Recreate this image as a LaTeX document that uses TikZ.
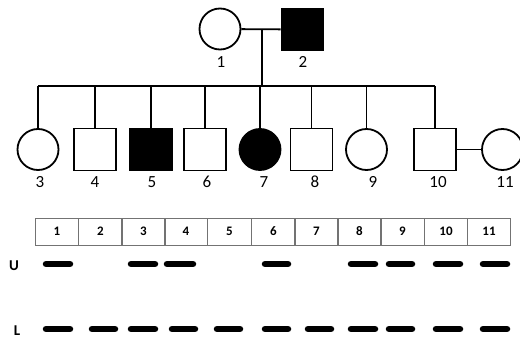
\documentclass[tikz,border=0pt]{standalone}
\usepackage{fontspec}
\setmainfont{Carlito}
\begin{document}
\begin{tikzpicture}[x=1pt,y=-1pt,
  ind/.style={draw=black,line width=1.8pt,inner sep=0pt,minimum size=41pt},
  fem/.style={ind,circle},
  mal/.style={ind,rectangle,minimum size=42pt},
  aff/.style={fill=black},
  lab/.style={font=\fontsize{17}{17}\selectfont},
  link/.style={line width=1.8pt},
  cell/.style={draw=black!55,line width=0.8pt,minimum width=43pt,minimum height=27pt,inner sep=0pt,font=\bfseries\fontsize{13}{13}\selectfont},
  bar/.style={line width=6.5pt,line cap=round},
  rowlab/.style={font=\bfseries\fontsize{15}{15}\selectfont}]
\useasboundingbox (0,0) rectangle (520,342);
% parents
\node[fem] (p1) at (220,29) {};
\node[mal,aff] (p2) at (302.5,29.5) {};
\node[lab] at (221,62) {1};
\node[lab] at (303,62) {2};
\draw[link] (p1) -- (p2);
\coordinate (m) at (262,29);
\coordinate (s) at (262,86);
\draw[link] (m) -- (s);
% children
\node[fem] (c3) at (38,149.5) {};
\node[mal] (c4) at (95,149.5) {};
\node[mal,aff] (c5) at (151,149.5) {};
\node[mal] (c6) at (205,149.5) {};
\node[fem,aff] (c7) at (260,149.5) {};
\node[mal] (c8) at (311.5,149.5) {};
\node[fem] (c9) at (366.5,149.5) {};
\node[mal] (c10) at (435,149.5) {};
\node[fem] (c11) at (502.5,149.5) {};
\draw[link] (c3.north |- s) -- (c10.north |- s);
\foreach \c in {c3,c4,c5,c6,c7,c8,c9,c10}{\draw[link] (\c.north) -- (\c.north |- s);}
\draw[link] (c10) -- (c11);
\foreach \n/\x in {3/40,4/95,5/152,6/207,7/264,8/315,9/373,10/438,11/505}{\node[lab] at (\x,182) {\n};}
% table
\foreach \i/\x in {1/57,2/100.5,3/143.5,4/186,5/229.5,6/273.5,7/316.5,8/359.5,9/402.5,10/446,11/489}{
  \node[cell,minimum width=43.5pt] (t\i) at (\x,231.5) {\i};}
\node[rowlab] (U) at (14,266) {U};
\node[rowlab] (L) at (17,331) {L};
% U bands
\foreach \a/\b in {43/73,128/158,164/196,262/291,348/378,386/415,433/463,480/510}{\draw[bar] (\a+3,264) -- (\b-3,264);}
% L bands
\foreach \a/\b in {43/73,89/118,128/158,169/198,214/243,262/291,305/334,348/378,386/415,433/463,480/510}{\draw[bar] (\a+3,329) -- (\b-3,329);}
\end{tikzpicture}
\end{document}
